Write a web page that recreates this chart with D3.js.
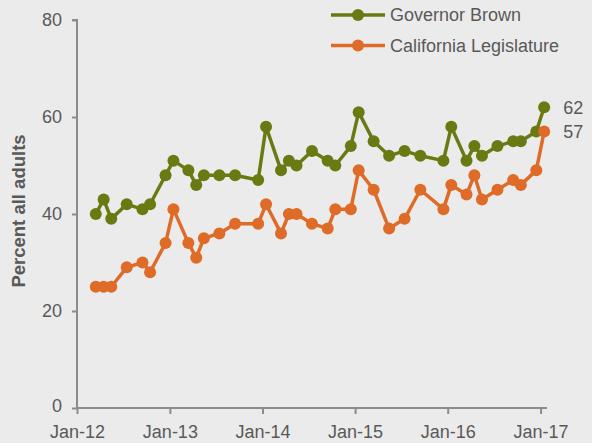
<!DOCTYPE html>
<html>
<head>
<meta charset="utf-8">
<script src="https://cdn.jsdelivr.net/npm/d3@7"></script>
<style>
  body { margin: 0; background: #ebebeb; }
  svg { display: block; font-family: "Liberation Sans", Arial, sans-serif; }
</style>
</head>
<body>
<div id="chart"></div>
<script>
// survey months (mid-month)
const months = [
  "2012-03", "2012-04", "2012-05", "2012-07", "2012-09", "2012-10", "2012-12",
  "2013-01", "2013-03", "2013-04", "2013-05", "2013-07", "2013-09", "2013-12",
  "2014-01", "2014-03", "2014-04", "2014-05", "2014-07", "2014-09", "2014-10", "2014-12",
  "2015-01", "2015-03", "2015-05", "2015-07", "2015-09", "2015-12",
  "2016-01", "2016-03", "2016-04", "2016-05", "2016-07", "2016-09", "2016-10", "2016-12",
  "2017-01"
];
const governor = [40, 43, 39, 42, 41, 42, 48, 51, 49, 46, 48, 48, 48, 47,
  58, 49, 51, 50, 53, 51, 50, 54, 61, 55, 52, 53, 52, 51,
  58, 51, 54, 52, 54, 55, 55, 57, 62];
const legislature = [25, 25, 25, 29, 30, 28, 34, 41, 34, 31, 35, 36, 38, 38,
  42, 36, 40, 40, 38, 37, 41, 41, 49, 45, 37, 39, 45, 41,
  46, 44, 48, 43, 45, 47, 46, 49, 57];
const yTicks = [0, 20, 40, 60, 80];
const xTickYears = [2012, 2013, 2014, 2015, 2016, 2017];

const series = [
  { name: "Governor Brown", values: governor, color: "#6a7a12" },
  { name: "California Legislature", values: legislature, color: "#de6b27" }
];

const width = 592, height = 443;
const textColor = "#595959", axisColor = "#8c8c8c";
const parse = d3.timeParse("%Y-%m-%d");
const dates = months.map(m => parse(m + "-15"));

const svg = d3.select("#chart").append("svg")
  .attr("width", width)
  .attr("height", height);

const x = d3.scaleTime()
  .domain([new Date(2012, 0, 1), new Date(2017, 0, 1)])
  .range([77, 540.6]);
const y = d3.scaleLinear().domain([0, 80]).range([408, 20]);

// y axis
const yAxis = svg.append("g")
  .attr("transform", "translate(77,0)")
  .call(d3.axisLeft(y).tickValues(yTicks).tickSize(5).tickPadding(10));
yAxis.select(".domain").attr("stroke", axisColor).attr("stroke-width", 2)
  .attr("d", `M-5,${y(80)}H0V${y(0)}`);
yAxis.selectAll(".tick line").attr("stroke", axisColor).attr("stroke-width", 2);
yAxis.selectAll(".tick text").attr("fill", textColor).style("font-size", "18px")
  .attr("font-family", null);
// the "0" sits a bit higher than the others
yAxis.selectAll(".tick text").filter(d => d === 0).attr("dy", "0.2em");

// x axis
const xAxis = svg.append("g")
  .attr("transform", `translate(0,${y(0)})`)
  .call(d3.axisBottom(x)
    .tickValues(xTickYears.map(yr => new Date(yr, 0, 1)))
    .tickFormat(d3.timeFormat("Jan-%y"))
    .tickSize(6).tickPadding(11));
xAxis.select(".domain").attr("stroke", axisColor).attr("stroke-width", 2)
  .attr("d", `M${x.range()[0]},0H547`);
xAxis.selectAll(".tick line").attr("stroke", axisColor).attr("stroke-width", 2);
xAxis.selectAll(".tick text").attr("fill", textColor).style("font-size", "18px")
  .attr("font-family", null);

// y title
svg.append("text")
  .attr("transform", `translate(25,${(y(0) + y(80)) / 2 - 3}) rotate(-90)`)
  .attr("text-anchor", "middle")
  .attr("fill", textColor)
  .style("font-size", "18.5px")
  .style("font-weight", "bold")
  .text("Percent all adults");

const line = d3.line()
  .x((d, i) => x(dates[i]))
  .y(d => y(d));

series.forEach(s => {
  const g = svg.append("g");
  g.append("path")
    .datum(s.values)
    .attr("fill", "none")
    .attr("stroke", s.color)
    .attr("stroke-width", 3.5)
    .attr("stroke-linejoin", "round")
    .attr("d", line);
  g.selectAll("circle")
    .data(s.values)
    .join("circle")
    .attr("cx", (d, i) => x(dates[i]))
    .attr("cy", d => y(d))
    .attr("r", 6)
    .attr("fill", s.color);
  // end label
  const last = s.values.length - 1;
  svg.append("text")
    .attr("x", x(dates[last]) + 19)
    .attr("y", y(s.values[last]))
    .attr("dy", "0.35em")
    .attr("fill", textColor)
    .style("font-size", "18px")
    .text(s.values[last]);
});

// legend
const legend = svg.append("g").attr("transform", "translate(331,15)");
series.forEach((s, i) => {
  const row = legend.append("g").attr("transform", `translate(0,${i * 30.5})`);
  row.append("line")
    .attr("x1", 0).attr("x2", 54)
    .attr("stroke", s.color).attr("stroke-width", 3.5);
  row.append("circle").attr("cx", 27).attr("r", 6).attr("fill", s.color);
  row.append("text")
    .attr("x", 59)
    .attr("dy", "0.35em")
    .attr("fill", textColor)
    .style("font-size", "18px")
    .text(s.name);
});
</script>
</body>
</html>
